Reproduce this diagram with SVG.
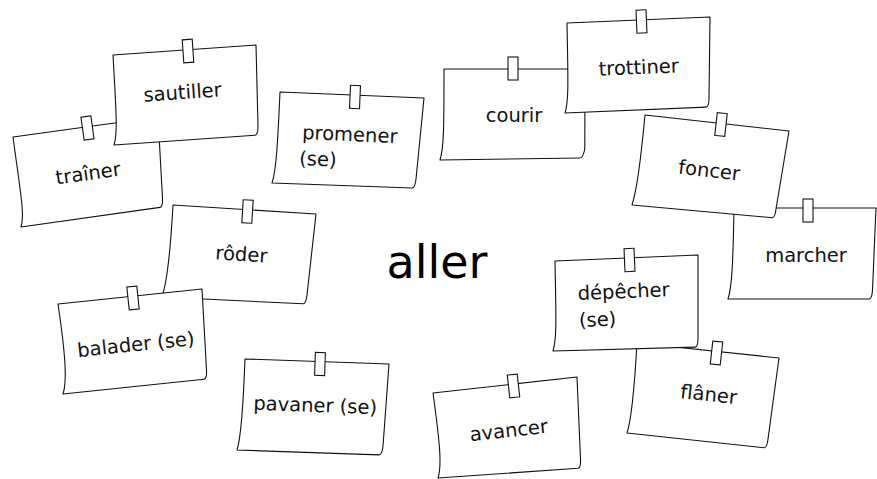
<svg xmlns="http://www.w3.org/2000/svg" width="877" height="479" viewBox="0 0 877 479">
<style>
.card{fill:#fff;stroke:#111;stroke-width:1.1;stroke-linejoin:round}
.tape{fill:#fff;stroke:#111;stroke-width:1.1}
.lbl{font-family:"DejaVu Sans",sans-serif;font-size:19.5px;fill:#111;text-anchor:middle}
.lbs{font-family:"DejaVu Sans",sans-serif;font-size:19.5px;fill:#111;text-anchor:start}
.title{font-family:"DejaVu Sans",sans-serif;font-size:46px;fill:#000;text-anchor:middle}
</style>
<defs>
<rect id="tape" class="tape" x="-5" y="-11.5" width="10" height="23"/>
</defs>
<rect width="877" height="479" fill="#fff"/>
<g id="connectors"/>
<g id="trainer">
<path class="card" d="M13,137 L158,117 L162.5,198 Q163,207 160,207.4 L21,227 C25,215 20.2,191 13,137 Z"/>
<use href="#tape" transform="translate(87.5,128) rotate(-8)"/>
<text class="lbl" x="89" y="180" transform="rotate(-8 89 180)">traîner</text>
</g>
<g id="sautiller">
<path class="card" d="M113,55 L256,45 L258,126 Q258,135 255,135.2 L114,145 C118,133 116,109 113,55 Z"/>
<use href="#tape" transform="translate(188,51) rotate(-4)"/>
<text class="lbl" x="183" y="99" transform="rotate(-4 183 99)">sautiller</text>
</g>
<g id="promener">
<path class="card" d="M280,92 L424,98 L416,179 Q415,188 412,188 L272,183 C276,171 277.6,146.6 280,92 Z"/>
<use href="#tape" transform="translate(355,97) rotate(2.4)"/>
<g transform="rotate(2.4 302 139)">
<text class="lbs" x="302" y="139">promener</text>
<text class="lbs" x="300" y="165">(se)</text>
</g>
</g>
<g id="courir">
<path class="card" d="M444,69 L585,69 L584.8,149 Q583,158 580,158 L440,160 C444,148 444,124 444,69 Z"/>
<use href="#tape" transform="translate(513,68.5)"/>
<text class="lbl" x="514" y="122">courir</text>
</g>
<g id="trottiner">
<path class="card" d="M567,23 L710,17 L709,98 Q709,107 706,107.1 L565,113 C569,101 568,77 567,23 Z"/>
<use href="#tape" transform="translate(641.5,21.5) rotate(-2.4)"/>
<text class="lbl" x="639" y="74" transform="rotate(-2.4 639 74)">trottiner</text>
</g>
<g id="marcher">
<path class="card" d="M734,208 L876,208 L872.5,290 Q872,299 869,299 L728,299 C732,287 733,263 734,208 Z"/>
<use href="#tape" transform="translate(808,210.5)"/>
<text class="lbl" x="806" y="262">marcher</text>
</g>
<g id="foncer">
<path class="card" d="M645,115 L789,131 L776,209 Q775,218 772,217.7 L632,205 C636,193 640,169 645,115 Z"/>
<use href="#tape" transform="translate(721,124.5) rotate(6.3)"/>
<text class="lbl" x="708.5" y="177" transform="rotate(6.3 708.5 177)">foncer</text>
</g>
<g id="roder">
<path class="card" d="M173,205 L316,214 L307,295 Q306,304 303,303.8 L162,297 C166,285 170,260 173,205 Z"/>
<use href="#tape" transform="translate(247.5,211.5) rotate(3.6)"/>
<text class="lbl" x="241" y="261" transform="rotate(3.6 241 261)">rôder</text>
</g>
<g id="balader">
<path class="card" d="M58,304 L202,289 L206.5,370 Q207,379 204,379.3 L63,394 C67,382 66,358 58,304 Z"/>
<use href="#tape" transform="translate(133,298) rotate(-6)"/>
<text class="lbl" x="136.5" y="351" transform="rotate(-6 136.5 351)">balader (se)</text>
</g>
<g id="pavaner">
<path class="card" d="M245,359 L389,364 L383,446 Q382,455 379,454.9 L237,450 C241,438 243,413 245,359 Z"/>
<use href="#tape" transform="translate(320,364) rotate(2)"/>
<text class="lbl" x="315" y="412" transform="rotate(2 315 412)">pavaner (se)</text>
</g>
<g id="flaner">
<path class="card" d="M637,343 L779,358 L768,439 Q767,448 764,447.7 L627,433 C631,421 634,396 637,343 Z"/>
<use href="#tape" transform="translate(716.5,353) rotate(6.2)"/>
<text class="lbl" x="708" y="401" transform="rotate(6.2 708 401)">flâner</text>
</g>
<g id="depecher">
<path class="card" d="M555,261 L698,255 L698,338 Q698,347 695,347.1 L553,351 C557,339 556,315 555,261 Z"/>
<use href="#tape" transform="translate(629.5,260) rotate(-2.4)"/>
<g transform="rotate(-2.4 578 300)">
<text class="lbs" x="578" y="300">dépêcher</text>
<text class="lbs" x="578" y="327">(se)</text>
</g>
</g>
<g id="avancer">
<path class="card" d="M433,393 L577,377 L580.5,459 Q581,468 578,468.3 L438,478 C442,466 440,444 433,393 Z"/>
<use href="#tape" transform="translate(513.5,386) rotate(-6.3)"/>
<text class="lbl" x="509.5" y="437" transform="rotate(-6.3 509.5 437)">avancer</text>
</g>
<g id="aller">
<text class="title" x="437" y="278">aller</text>
</g>
</svg>
